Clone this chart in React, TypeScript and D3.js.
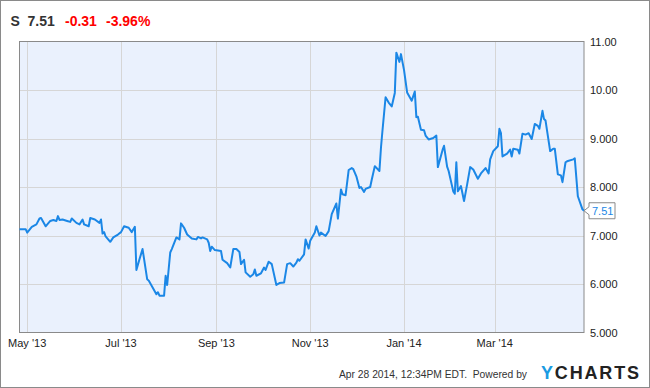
import React from "react";
import * as d3 from "d3";

const ticker = "S";
const lastPrice = "7.51";
const change = "-0.31";
const changePct = "-3.96%";
const footerText = "Apr 28 2014, 12:34PM EDT.  Powered by";

const dates = [
  "2013-04-26","2013-04-30","2013-05-01","2013-05-04","2013-05-07","2013-05-09","2013-05-10","2013-05-13",
  "2013-05-16","2013-05-18","2013-05-20","2013-05-21","2013-05-22","2013-05-24","2013-05-27","2013-05-29",
  "2013-05-30","2013-06-02","2013-06-04","2013-06-06","2013-06-07","2013-06-10","2013-06-11","2013-06-14",
  "2013-06-17","2013-06-18","2013-06-19","2013-06-20","2013-06-21","2013-06-24","2013-06-26","2013-06-29",
  "2013-07-01","2013-07-03","2013-07-06","2013-07-08","2013-07-10","2013-07-11","2013-07-13","2013-07-15",
  "2013-07-18","2013-07-19","2013-07-21","2013-07-24","2013-07-25","2013-07-26","2013-07-29","2013-07-30",
  "2013-07-31","2013-08-02","2013-08-03","2013-08-06","2013-08-08","2013-08-09","2013-08-11","2013-08-13",
  "2013-08-16","2013-08-19","2013-08-20","2013-08-22","2013-08-23","2013-08-26","2013-08-27","2013-08-28",
  "2013-08-29","2013-08-31","2013-09-04","2013-09-05","2013-09-08","2013-09-10","2013-09-12","2013-09-14",
  "2013-09-16","2013-09-17","2013-09-19","2013-09-20","2013-09-23","2013-09-25","2013-09-26","2013-09-27",
  "2013-09-30","2013-10-02","2013-10-03","2013-10-05","2013-10-07","2013-10-10","2013-10-12","2013-10-15",
  "2013-10-17","2013-10-19","2013-10-21","2013-10-23","2013-10-24","2013-10-25","2013-10-28","2013-10-29",
  "2013-10-31","2013-11-01","2013-11-04","2013-11-05","2013-11-07","2013-11-08","2013-11-11","2013-11-13",
  "2013-11-15","2013-11-18","2013-11-19","2013-11-21","2013-11-22","2013-11-24","2013-11-26","2013-11-28",
  "2013-11-29","2013-12-01","2013-12-03","2013-12-04","2013-12-06","2013-12-07","2013-12-10","2013-12-11",
  "2013-12-13","2013-12-16","2013-12-17","2013-12-18","2013-12-20","2013-12-22","2013-12-24","2013-12-26",
  "2013-12-27","2013-12-29","2013-12-30","2014-01-01","2014-01-03","2014-01-06","2014-01-08","2014-01-09",
  "2014-01-10","2014-01-12","2014-01-14","2014-01-15","2014-01-17","2014-01-20","2014-01-22","2014-01-23",
  "2014-01-26","2014-01-27","2014-01-29","2014-01-30","2014-02-02","2014-02-03","2014-02-04","2014-02-05",
  "2014-02-07","2014-02-09","2014-02-11","2014-02-13","2014-02-15","2014-02-18","2014-02-20","2014-02-23",
  "2014-02-25","2014-02-26","2014-02-28","2014-03-03","2014-03-04","2014-03-05","2014-03-06","2014-03-09",
  "2014-03-11","2014-03-12","2014-03-13","2014-03-16","2014-03-17","2014-03-19","2014-03-21","2014-03-23",
  "2014-03-25","2014-03-27","2014-03-29","2014-03-30","2014-04-01","2014-04-02","2014-04-03","2014-04-06",
  "2014-04-08","2014-04-09","2014-04-11","2014-04-13","2014-04-14","2014-04-16","2014-04-17","2014-04-21",
  "2014-04-22","2014-04-24","2014-04-27","2014-04-28"
];

const prices = [
  7.13,7.13,7.06,7.18,7.23,7.35,7.36,7.19,
  7.30,7.32,7.30,7.40,7.32,7.33,7.30,7.28,
  7.35,7.26,7.23,7.33,7.23,7.19,7.36,7.33,
  7.26,7.33,7.04,7.07,6.98,6.87,6.96,7.02,
  7.07,7.19,7.16,7.07,7.18,6.29,6.51,6.72,
  6.10,6.07,5.96,5.79,5.83,5.76,5.76,6.17,
  5.98,6.65,6.72,6.96,6.92,7.25,7.16,7.02,
  6.94,6.92,6.97,6.94,6.96,6.92,6.85,6.68,
  6.77,6.70,6.68,6.50,6.43,6.34,6.72,6.72,
  6.66,6.41,6.50,6.24,6.15,6.20,6.30,6.17,
  6.22,6.34,6.29,6.46,6.41,5.98,6.02,6.03,
  6.41,6.43,6.36,6.44,6.51,6.48,6.61,6.92,
  6.73,6.89,7.06,7.19,7.00,7.06,6.99,7.09,
  7.44,7.66,7.35,7.95,7.85,7.83,8.35,8.39,
  8.37,8.22,7.98,8.00,7.90,7.96,8.00,8.15,
  8.43,8.33,8.81,9.17,9.85,9.74,9.66,9.94,
  10.77,10.58,10.74,10.41,9.95,9.78,9.97,9.44,
  9.45,9.18,9.17,9.06,8.98,9.01,9.06,8.41,
  8.76,8.85,8.42,8.33,7.91,7.86,8.51,7.91,
  8.02,7.71,8.05,8.41,8.36,8.17,8.28,8.39,
  8.28,8.57,8.74,8.84,9.20,9.11,8.63,8.69,
  8.77,8.63,8.79,8.77,8.69,9.10,9.08,9.11,
  8.99,9.30,9.26,9.20,9.57,9.40,9.37,8.74,
  8.79,8.79,8.26,8.24,8.10,8.51,8.53,8.57,
  8.59,7.81,7.54,7.51
];

const xTickDates = ["2013-05-01","2013-07-01","2013-09-01","2013-11-01","2014-01-01","2014-03-01"];
const xTickLabels = ["May '13","Jul '13","Sep '13","Nov '13","Jan '14","Mar '14"];
const yTickValues = [5, 6, 7, 8, 9, 10, 11];
const yTickLabels = ["5.000","6.000","7.000","8.000","9.000","10.00","11.00"];
const domainStart = "2013-04-26";
const domainEnd = "2014-04-28";

const W = 650;
const H = 388;
const plot = { left: 19.5, right: 584, top: 41.5, bottom: 332.5 };
const FONT = "'Liberation Sans', Arial, sans-serif";

export default function App() {
  const x = d3
    .scaleUtc()
    .domain([new Date(domainStart), new Date(domainEnd)])
    .range([plot.left, plot.right]);
  const y = d3.scaleLinear().domain([5, 11]).range([plot.bottom, plot.top]);

  const data = dates.map((d, i) => ({ date: new Date(d), v: prices[i] }));
  const line = d3
    .line<{ date: Date; v: number }>()
    .x((d) => x(d.date))
    .y((d) => y(d.v));

  const last = data[data.length - 1];
  const lx = x(last.date);
  const ly = y(last.v);
  const bx = lx + 5;
  const bw = 26;
  const bh = 16;

  return (
    <svg
      width={W}
      height={H}
      style={{ position: "absolute", left: 0, top: 0, fontFamily: FONT }}
    >
      <rect x={0} y={0} width={W} height={H} fill="#ffffff" />
      <rect x={0.5} y={0.5} width={W - 1} height={H - 1} fill="none" stroke="#8a8a8a" />

      {/* header */}
      <g fontWeight="bold" fontSize={14}>
        <text x={10.5} y={26} fill="#333333">{ticker}</text>
        <text x={27.5} y={26} fill="#333333">{lastPrice}</text>
        <text x={65} y={26} fill="#ff0000">{change}</text>
        <text x={106} y={26} fill="#ff0000">{changePct}</text>
      </g>

      {/* plot background */}
      <rect
        x={plot.left}
        y={plot.top}
        width={plot.right - plot.left}
        height={plot.bottom - plot.top}
        fill="#eaf1fd"
      />

      {/* grid */}
      <g stroke="#d6d6d6" strokeWidth={1}>
        {yTickValues.slice(1, -1).map((v) => (
          <line key={v} x1={plot.left} x2={plot.right} y1={Math.round(y(v)) + 0.5} y2={Math.round(y(v)) + 0.5} />
        ))}
        {xTickDates.map((d) => {
          const xx = Math.round(x(new Date(d))) + 0.5;
          return <line key={d} x1={xx} x2={xx} y1={plot.top} y2={plot.bottom} />;
        })}
      </g>

      {/* border */}
      <rect
        x={plot.left}
        y={plot.top}
        width={plot.right - plot.left}
        height={plot.bottom - plot.top}
        fill="none"
        stroke="#8a8a8a"
        strokeWidth={1}
      />

      {/* line */}
      <path d={line(data) || ""} fill="none" stroke="#1b87e6" strokeWidth={2} strokeLinejoin="round" />

      {/* y labels */}
      <g fontSize={11} fill="#222222">
        {yTickValues.map((v, i) => (
          <text key={v} x={590} y={y(v) + 4}>{yTickLabels[i]}</text>
        ))}
      </g>

      {/* x labels */}
      <g fontSize={11} fill="#222222" textAnchor="middle">
        {xTickDates.map((d, i) => (
          <text key={d} x={x(new Date(d))} y={347}>{xTickLabels[i]}</text>
        ))}
      </g>

      {/* last value label */}
      <path
        d={`M${lx},${ly} L${bx},${ly - 4} L${bx},${ly - bh / 2} L${bx + bw},${ly - bh / 2} L${bx + bw},${ly + bh / 2} L${bx},${ly + bh / 2} L${bx},${ly + 4} Z`}
        fill="#ffffff"
        stroke="#8a8a8a"
        strokeWidth={1}
      />
      <text x={bx + 3} y={ly + 4} fontSize={11} fill="#1b87e6">{lastPrice}</text>

      {/* footer */}
      <text x={339} y={378} fontSize={11} fill="#333333" textLength={188} lengthAdjust="spacingAndGlyphs" style={{ whiteSpace: "pre" }}>
        {footerText}
      </text>
      <text x={541} y={379} fontSize={18} fontWeight="bold" textLength={98} lengthAdjust="spacing">
        <tspan fill="#1a9be2">Y</tspan>
        <tspan fill="#222222">CHARTS</tspan>
      </text>
    </svg>
  );
}
